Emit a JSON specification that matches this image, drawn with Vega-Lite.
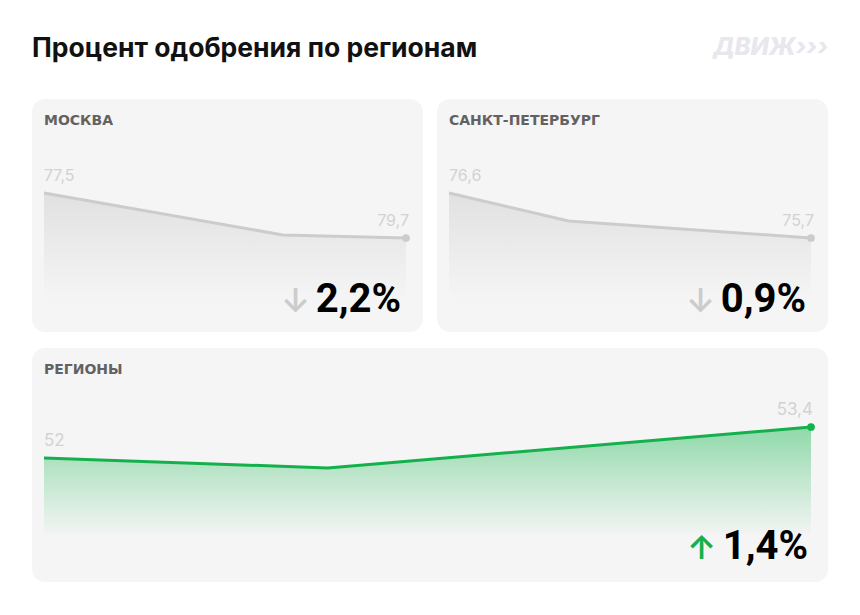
{
  "$schema": "https://vega.github.io/schema/vega-lite/v6.json",
  "background": "white",
  "padding": {"left": 32, "top": 35, "right": 32, "bottom": 10},
  "title": {
    "text": "Процент одобрения по регионам",
    "anchor": "start",
    "font": "Inter",
    "fontSize": 26.5,
    "fontWeight": 700,
    "color": "#111111",
    "baseline": "alphabetic",
    "offset": -47
  },
  "datasets": {
    "points": [
      {"region": "МОСКВА", "t": 0, "v": 79.7, "label": "77,5", "arrow": null, "change": null},
      {"region": "МОСКВА", "t": 66, "v": 77.65, "label": null, "arrow": null, "change": null},
      {"region": "МОСКВА", "t": 100, "v": 77.5, "label": "79,7", "arrow": "↓", "change": "2,2%"},
      {"region": "САНКТ-ПЕТЕРБУРГ", "t": 0, "v": 76.6, "label": "76,6", "arrow": null, "change": null},
      {"region": "САНКТ-ПЕТЕРБУРГ", "t": 33, "v": 76.04, "label": null, "arrow": null, "change": null},
      {"region": "САНКТ-ПЕТЕРБУРГ", "t": 100, "v": 75.7, "label": "75,7", "arrow": "↓", "change": "0,9%"},
      {"region": "РЕГИОНЫ", "t": 0, "v": 52.0, "label": "52", "arrow": null, "change": null},
      {"region": "РЕГИОНЫ", "t": 37, "v": 51.55, "label": null, "arrow": null, "change": null},
      {"region": "РЕГИОНЫ", "t": 100, "v": 53.4, "label": "53,4", "arrow": "↑", "change": "1,4%"}
    ]
  },
  "config": {
    "view": {"fill": "#f5f5f5", "stroke": null, "cornerRadius": 13},
    "title": {"font": "Inter"}
  },
  "spacing": 16,
  "vconcat": [
    {
      "spacing": 14,
      "hconcat": [
        {
          "width": 391,
          "height": 233,
          "title": {"text": "МОСКВА", "anchor": "start", "frame": "group", "dx": 12, "offset": -40, "baseline": "alphabetic", "font": "DejaVu Sans", "fontSize": 14, "fontWeight": "bold", "color": "#626262"},
          "data": {"name": "points"},
          "transform": [{"filter": "datum.region === 'МОСКВА'"}],
          "encoding": {
            "x": {"field": "t", "type": "quantitative", "axis": null, "scale": {"domain": [0, 100], "range": [12, 374]}},
            "y": {"field": "v", "type": "quantitative", "axis": null, "scale": {"domain": [77.5, 79.7], "range": [139, 94], "zero": false, "nice": false}}
          },
          "layer": [
            {"mark": {"type": "area", "fill": {"gradient": "linear", "x1": 0, "y1": 0, "x2": 0, "y2": 1, "stops": [{"offset": 0, "color": "rgba(170,170,170,0.27)"}, {"offset": 1, "color": "rgba(170,170,170,0)"}]}}, "encoding": {"y2": {"datum": 74.47}}},
            {"mark": {"type": "line", "color": "#cccccc", "strokeWidth": 3}},
            {"transform": [{"filter": "datum.t === 100"}], "mark": {"type": "circle", "color": "#cccccc", "size": 60, "opacity": 1}},
            {"transform": [{"filter": "datum.t === 0"}], "mark": {"type": "text", "align": "left", "baseline": "alphabetic", "dy": -12, "font": "Inter", "fontSize": 16, "color": "#d2d2d2"}, "encoding": {"text": {"field": "label"}}},
            {"transform": [{"filter": "datum.t === 100"}], "mark": {"type": "text", "align": "right", "baseline": "alphabetic", "dy": -12, "dx": 3, "font": "Inter", "fontSize": 16, "color": "#d2d2d2"}, "encoding": {"text": {"field": "label"}}},
            {"transform": [{"filter": "datum.t === 100"}], "mark": {"type": "text", "align": "right", "baseline": "alphabetic", "dx": -5, "font": "Roboto", "fontSize": 40, "fontWeight": "bold", "color": "#000000"}, "encoding": {"y": {"datum": 73.88}, "text": {"field": "change"}}},
            {"transform": [{"filter": "datum.t === 100"}], "mark": {"type": "text", "align": "right", "baseline": "alphabetic", "dx": -96, "font": "Inter", "fontSize": 33, "fontWeight": 600, "color": "#cccccc"}, "encoding": {"y": {"datum": 73.88}, "text": {"field": "arrow"}}}
          ]
        },
        {
          "width": 391,
          "height": 233,
          "title": {"text": "САНКТ-ПЕТЕРБУРГ", "anchor": "start", "frame": "group", "dx": 12, "offset": -103, "baseline": "alphabetic", "font": "DejaVu Sans", "fontSize": 14, "fontWeight": "bold", "color": "#626262"},
          "data": {"name": "points"},
          "transform": [{"filter": "datum.region === 'САНКТ-ПЕТЕРБУРГ'"}],
          "encoding": {
            "x": {"field": "t", "type": "quantitative", "axis": null, "scale": {"domain": [0, 100], "range": [12, 374]}},
            "y": {"field": "v", "type": "quantitative", "axis": null, "scale": {"domain": [75.7, 76.6], "range": [139, 94], "zero": false, "nice": false}}
          },
          "layer": [
            {"mark": {"type": "area", "fill": {"gradient": "linear", "x1": 0, "y1": 0, "x2": 0, "y2": 1, "stops": [{"offset": 0, "color": "rgba(170,170,170,0.27)"}, {"offset": 1, "color": "rgba(170,170,170,0)"}]}}, "encoding": {"y2": {"datum": 74.46}}},
            {"mark": {"type": "line", "color": "#cccccc", "strokeWidth": 3}},
            {"transform": [{"filter": "datum.t === 100"}], "mark": {"type": "circle", "color": "#cccccc", "size": 60, "opacity": 1}},
            {"transform": [{"filter": "datum.t === 0"}], "mark": {"type": "text", "align": "left", "baseline": "alphabetic", "dy": -12, "font": "Inter", "fontSize": 16, "color": "#d2d2d2"}, "encoding": {"text": {"field": "label"}}},
            {"transform": [{"filter": "datum.t === 100"}], "mark": {"type": "text", "align": "right", "baseline": "alphabetic", "dy": -12, "dx": 3, "font": "Inter", "fontSize": 16, "color": "#d2d2d2"}, "encoding": {"text": {"field": "label"}}},
            {"transform": [{"filter": "datum.t === 100"}], "mark": {"type": "text", "align": "right", "baseline": "alphabetic", "dx": -5, "font": "Roboto", "fontSize": 40, "fontWeight": "bold", "color": "#000000"}, "encoding": {"y": {"datum": 74.22}, "text": {"field": "change"}}},
            {"transform": [{"filter": "datum.t === 100"}], "mark": {"type": "text", "align": "right", "baseline": "alphabetic", "dx": -96, "font": "Inter", "fontSize": 33, "fontWeight": 600, "color": "#cccccc"}, "encoding": {"y": {"datum": 74.22}, "text": {"field": "arrow"}}},
            {"transform": [{"filter": "datum.t === 100"}], "mark": {"type": "text", "align": "right", "baseline": "alphabetic", "dx": 17, "font": "Inter", "fontSize": 24, "fontWeight": 800, "fontStyle": "italic", "color": "#e7e8ed"}, "encoding": {"y": {"datum": 79.36}, "text": {"value": "ДВИЖ›››"}}}
          ]
        }
      ]
    },
    {
      "width": 796,
      "height": 234,
      "title": {"text": "РЕГИОНЫ", "anchor": "start", "frame": "group", "dx": 12, "offset": -40, "baseline": "alphabetic", "font": "DejaVu Sans", "fontSize": 14, "fontWeight": "bold", "color": "#626262"},
      "data": {"name": "points"},
      "transform": [{"filter": "datum.region === 'РЕГИОНЫ'"}],
      "encoding": {
        "x": {"field": "t", "type": "quantitative", "axis": null, "scale": {"domain": [0, 100], "range": [12, 779]}},
        "y": {"field": "v", "type": "quantitative", "axis": null, "scale": {"domain": [52, 53.4], "range": [110, 79], "zero": false, "nice": false}}
      },
      "layer": [
        {"mark": {"type": "area", "fill": {"gradient": "linear", "x1": 0, "y1": 0, "x2": 0, "y2": 1, "stops": [{"offset": 0, "color": "rgba(0,178,64,0.42)"}, {"offset": 0.5, "color": "rgba(0,178,64,0.2)"}, {"offset": 1, "color": "rgba(0,178,64,0)"}]}}, "encoding": {"y2": {"datum": 48.43}}},
        {"mark": {"type": "line", "color": "#14b04b", "strokeWidth": 3}},
        {"transform": [{"filter": "datum.t === 100"}], "mark": {"type": "circle", "color": "#14b04b", "size": 60, "opacity": 1}},
        {"transform": [{"filter": "datum.t === 0"}], "mark": {"type": "text", "align": "left", "baseline": "alphabetic", "dy": -12, "font": "Inter", "fontSize": 17, "color": "#d2d2d2"}, "encoding": {"text": {"field": "label"}}},
        {"transform": [{"filter": "datum.t === 100"}], "mark": {"type": "text", "align": "right", "baseline": "alphabetic", "dy": -12, "dx": 2, "font": "Inter", "fontSize": 17, "color": "#d2d2d2"}, "encoding": {"text": {"field": "label"}}},
        {"transform": [{"filter": "datum.t === 100"}], "mark": {"type": "text", "align": "right", "baseline": "alphabetic", "dx": -3, "font": "Roboto", "fontSize": 40, "fontWeight": "bold", "color": "#000000"}, "encoding": {"y": {"datum": 47.44}, "text": {"field": "change"}}},
        {"transform": [{"filter": "datum.t === 100"}], "mark": {"type": "text", "align": "right", "baseline": "alphabetic", "dx": -95, "font": "Inter", "fontSize": 33, "fontWeight": 600, "color": "#14b04b"}, "encoding": {"y": {"datum": 47.44}, "text": {"field": "arrow"}}}
      ]
    }
  ]
}
